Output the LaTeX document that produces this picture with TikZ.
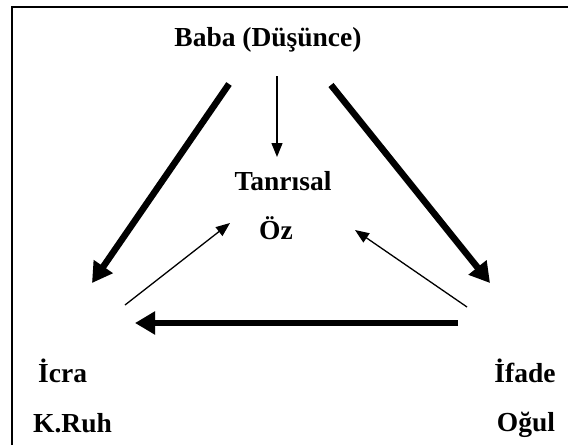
\documentclass[tikz,border=0pt]{standalone}
\usepackage{fontspec}
\setmainfont{Liberation Serif}
\usetikzlibrary{arrows.meta}
\tikzset{
  lbl/.style={font=\fontsize{27.5}{32}\selectfont\bfseries, inner sep=0pt, anchor=base},
  bigarrow/.style={line width=6.5pt, -{Triangle[length=20pt,width=22pt]}},
  bigshadow/.style={line width=6.5pt, -{Triangle[length=20pt,width=22pt]}, draw=black!30, opacity=0.35, shift={(1.5,1.8)}},
  thinarrow/.style={line width=1.3pt, -{Triangle[length=14pt,width=11pt]}},
  frame/.style={line width=2pt}
}
\begin{document}
\begin{tikzpicture}[x=1pt,y=-1pt]
\useasboundingbox (0,0) rectangle (568,445);
\fill[white] (0,0) rectangle (568,445);
\draw[frame] (12,445) -- (12,7) -- (568,7);

% labels
\node[lbl] (baba) at (268,46) {Baba (Düşünce)};
\node[lbl] (tanri) at (283,190) {Tanrısal};
\node[lbl] (oz) at (276,239) {Öz};
\node[lbl, anchor=base west] (icra) at (38,382) {İcra};
\node[lbl, anchor=base west] (kruh) at (33,432) {K.Ruh};
\node[lbl] (ifade) at (525,382) {İfade};
\node[lbl] (ogul) at (526,431) {Oğul};

% arrow end points
\coordinate (bL1) at (229,84);  \coordinate (bL2) at (92,283);
\coordinate (bR1) at (331,85);  \coordinate (bR2) at (490,283);
\coordinate (bB1) at (458,323); \coordinate (bB2) at (135,323);
\coordinate (v1) at (277,76);   \coordinate (v2) at (277,157);
\coordinate (tL1) at (125,305); \coordinate (tL2) at (230,223);
\coordinate (tR1) at (467,307); \coordinate (tR2) at (355,230);

% shadows
\draw[bigshadow] (bL1) -- (bL2);
\draw[bigshadow] (bR1) -- (bR2);
\draw[bigshadow] (bB1) -- (bB2);

% thick arrows
\draw[bigarrow] (bL1) -- (bL2);
\draw[bigarrow] (bR1) -- (bR2);
\draw[bigarrow] (bB1) -- (bB2);

% thin arrows
\draw[thinarrow] (v1) -- (v2);
\draw[thinarrow] (tL1) -- (tL2);
\draw[thinarrow] (tR1) -- (tR2);
\end{tikzpicture}
\end{document}
